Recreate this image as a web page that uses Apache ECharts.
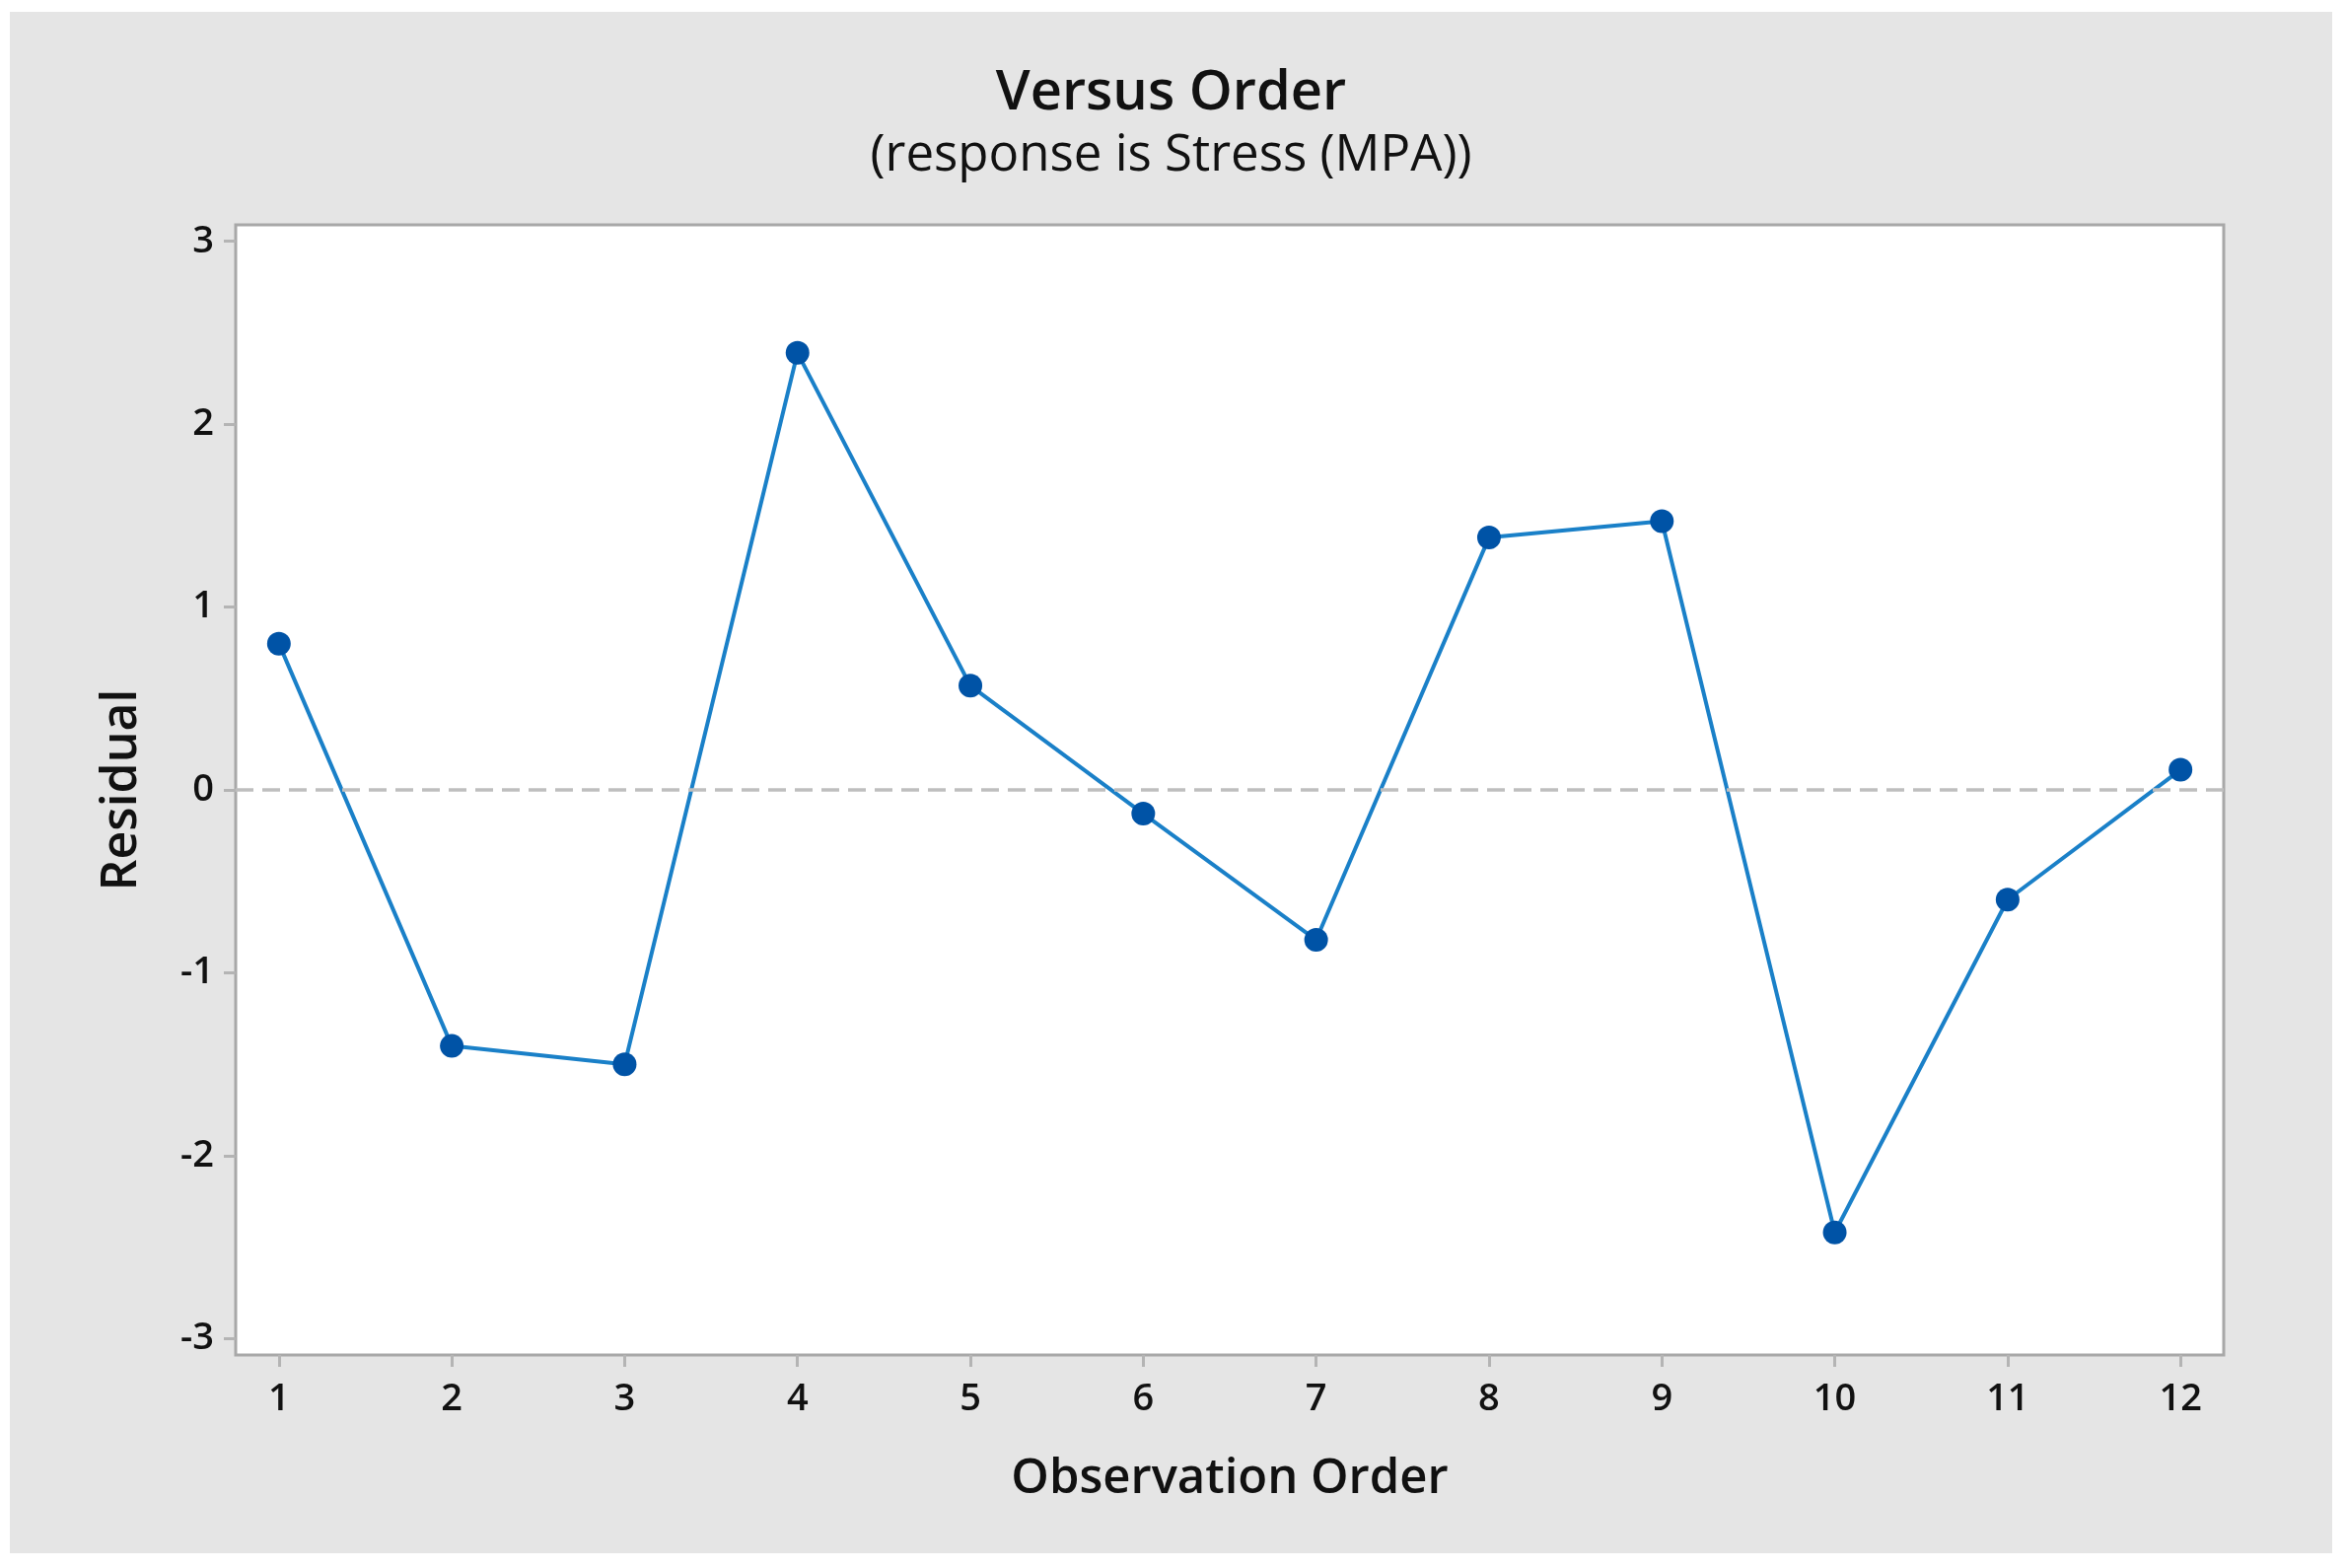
<!DOCTYPE html>
<html>
<head>
<meta charset="utf-8">
<script src="https://cdn.jsdelivr.net/npm/echarts@6/dist/echarts.min.js"></script>
<style>
  html, body { margin: 0; padding: 0; background: #ffffff; }
  #chart { position: absolute; left: 10px; top: 12px; width: 2355px; height: 1563px; }
</style>
</head>
<body>
<div id="chart"></div>
<script>
// ---- data ----
const observationOrder = [1, 2, 3, 4, 5, 6, 7, 8, 9, 10, 11, 12];
const residuals = [0.80, -1.40, -1.50, 2.39, 0.57, -0.13, -0.82, 1.38, 1.47, -2.42, -0.60, 0.11];
const xTicks = [1, 2, 3, 4, 5, 6, 7, 8, 9, 10, 11, 12];
const yTicks = [-3, -2, -1, 0, 1, 2, 3];
const titleText = 'Versus Order';
const subtitleText = '(response is Stress (MPA))';
const xName = 'Observation Order';
const yName = 'Residual';

const points = observationOrder.map((x, i) => [x, residuals[i]]);
const FONT = '"Open Sans", "Noto Sans", sans-serif';

const chart = echarts.init(document.getElementById('chart'));
chart.setOption({
  backgroundColor: '#e5e5e5',
  animation: false,
  title: {
    text: titleText,
    subtext: subtitleText,
    left: 'center',
    top: 50,
    itemGap: 10,
    textStyle: { fontFamily: FONT, fontSize: 56, fontWeight: 600, color: '#111' },
    subtextStyle: { fontFamily: FONT, fontSize: 51, fontWeight: 500, color: '#111' }
  },
  grid: {
    left: 229, top: 216, right: 110, bottom: 201,
    show: true, backgroundColor: '#ffffff', borderColor: '#a8a8a8', borderWidth: 3,
    containLabel: false
  },
  xAxis: {
    type: 'value', min: 0.75, max: 12.25,
    name: xName, nameLocation: 'middle', nameGap: 102,
    nameTextStyle: { fontFamily: FONT, fontSize: 49, fontWeight: 600, color: '#111' },
    axisLine: { show: false, onZero: false },
    axisTick: { show: true, length: 12, customValues: xTicks, lineStyle: { color: '#b4b4b4', width: 3 } },
    axisLabel: { customValues: xTicks, margin: 26, fontFamily: FONT, fontSize: 38, fontWeight: 600, color: '#111' },
    splitLine: { show: false }
  },
  yAxis: {
    type: 'value', min: -3.09, max: 3.09,
    name: yName, nameLocation: 'middle', nameGap: 90,
    nameTextStyle: { fontFamily: FONT, fontSize: 50, fontWeight: 600, color: '#111' },
    axisLine: { show: false, onZero: false },
    axisTick: { show: true, length: 12, customValues: yTicks, lineStyle: { color: '#b4b4b4', width: 3 } },
    axisLabel: { customValues: yTicks, margin: 22, fontFamily: FONT, fontSize: 38, fontWeight: 600, color: '#111' },
    splitLine: { show: false }
  },
  series: [{
    type: 'line',
    data: points,
    symbol: 'circle',
    symbolSize: 24,
    itemStyle: { color: '#0053a6' },
    lineStyle: { color: '#1a80c8', width: 4 },
    markLine: {
      silent: true,
      symbol: 'none',
      label: { show: false },
      lineStyle: { color: '#bebebe', type: [18, 9], width: 3.5 },
      data: [{ yAxis: 0 }]
    }
  }]
});
</script>
</body>
</html>
